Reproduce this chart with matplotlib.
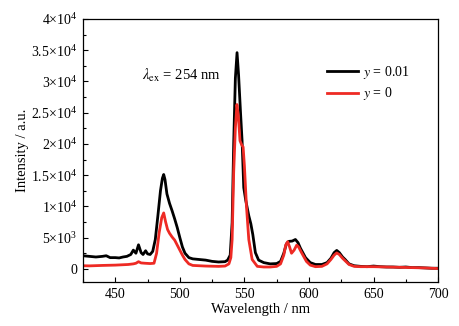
import numpy as np
import matplotlib
matplotlib.use('Agg')
import matplotlib.pyplot as plt
from matplotlib.ticker import FuncFormatter, MultipleLocator

# ---- data ----
wl_black = [425, 430, 435, 440, 443, 446, 450, 453, 456, 459, 462, 464, 466, 468, 470,
            471.5, 473.5, 475, 477, 479, 481, 483, 485, 486.5, 487.5, 488.5, 490, 492,
            494, 496, 498, 500, 502, 504, 507, 510, 515, 520, 525, 530, 535, 537, 539,
            540.5, 541.7, 543, 544.3, 545.5, 547, 548.2, 549.5, 551, 553.4, 555, 556.5,
            558.5, 561, 565, 570, 575, 578, 580.5, 582.5, 584.4, 587, 589.5, 591.5,
            593.4, 597.3, 601, 605, 610, 614, 617, 619.5, 621.5, 623.5, 626, 628, 631,
            635, 640, 645, 650, 655, 660, 665, 670, 675, 680, 685, 690, 695, 700]
int_black = [2100, 2000, 1900, 2000, 2100, 1800, 1800, 1750, 1900, 2000, 2300, 3000, 2500,
             3850, 2600, 2300, 2900, 2400, 2300, 2800, 4700, 8500, 12500, 14500, 15100,
             14300, 12000, 10500, 9300, 8000, 6600, 5000, 3500, 2500, 1800, 1600, 1500,
             1400, 1200, 1100, 1150, 1400, 2200, 7400, 20000, 30500, 34600, 31000, 25000,
             20500, 13000, 11000, 8500, 7200, 5500, 2600, 1400, 1000, 800, 850, 1200, 2500,
             4000, 4400, 4450, 4700, 4200, 3300, 1800, 1000, 700, 700, 1000, 1700, 2600,
             2950, 2600, 1900, 1500, 800, 500, 400, 350, 450, 350, 300, 300, 250, 300, 200,
             200, 150, 100, 100]

wl_red = [425, 430, 440, 450, 455, 460, 464, 466, 468, 470, 473, 477, 480, 482, 484, 486,
          487.5, 489, 490.5, 492, 494, 496, 499, 502, 504, 507, 510, 520, 530, 535, 538,
          539.5, 540.5, 541.7, 543, 544.2, 545.3, 546.6, 548, 549, 550, 551.6, 553.4, 556,
          560, 565, 570, 575, 578, 580.5, 582, 583.5, 585, 586.5, 588.5, 590.5, 592, 594,
          598, 601, 605, 610, 614, 617, 619.5, 621.5, 623.5, 626, 628, 631, 635, 640, 650,
          660, 670, 680, 690, 700]
int_red = [500, 480, 550, 600, 650, 700, 800, 900, 1150, 950, 900, 850, 900, 2500, 5800,
           8200, 8950, 7500, 6300, 5700, 5100, 4600, 3400, 2200, 1500, 800, 550, 450, 400,
           450, 800, 1800, 4700, 15500, 22500, 26300, 24500, 20500, 19800, 19500, 16500,
           10000, 4700, 1500, 400, 300, 300, 400, 800, 2200, 3800, 4350, 3500, 2500, 3000,
           3800, 3500, 2700, 1200, 600, 350, 400, 800, 1500, 2200, 2550, 2300, 1700, 1300,
           700, 400, 350, 350, 300, 250, 200, 150, 50]

series_labels = [r'$\it{y}$ = 0.01', r'$\it{y}$ = 0']
series_colors = ['#000000', '#ee2a24']

plt.rcParams['font.family'] = ['Liberation Serif', 'DejaVu Serif']
plt.rcParams['mathtext.fontset'] = 'stix'
plt.rcParams['font.size'] = 10


def sci_fmt(v, pos):
    if v == 0:
        return '0'
    exp = int(np.floor(np.log10(abs(v))))
    mant = v / 10 ** exp
    m = f'{mant:g}'
    return r'$\mathregular{%s{\times}10^{%d}}$' % (m, exp)


fig = plt.figure(figsize=(4.6, 3.26), dpi=100)
ax = fig.add_axes([0.1804, 0.135, 0.772, 0.807])

ax.plot(wl_black, int_black, color=series_colors[0], lw=2.0, label=series_labels[0])
ax.plot(wl_red, int_red, color=series_colors[1], lw=2.0, label=series_labels[1])

ax.set_xlim(425, 700)
ax.set_ylim(-2100, 40000)
ax.xaxis.set_major_locator(MultipleLocator(50))
ax.xaxis.set_minor_locator(MultipleLocator(25))
ax.yaxis.set_major_locator(MultipleLocator(5000))
ax.yaxis.set_minor_locator(MultipleLocator(2500))
ax.yaxis.set_major_formatter(FuncFormatter(sci_fmt))
ax.tick_params(which='both', direction='in', top=False, right=False, labelsize=10)
ax.tick_params(which='major', length=3.5, width=0.8, pad=4)
ax.tick_params(which='minor', length=2, width=0.8)
for s in ax.spines.values():
    s.set_linewidth(0.9)

ax.set_xlabel('Wavelength / nm', fontsize=10.5, labelpad=2)
ax.set_ylabel('Intensity / a.u.', fontsize=10.5, labelpad=2)

ax.text(0.165, 0.785, r'$\mathit{\lambda}_{\rm ex}$ = 254 nm', transform=ax.transAxes,
        fontsize=10.5, va='center', ha='left')

ax.legend(loc='upper right', bbox_to_anchor=(0.955, 0.875), frameon=False, fontsize=10,
          handlelength=2.2, handletextpad=0.35, labelspacing=0.3)

fig.savefig('out.png', dpi=100)
